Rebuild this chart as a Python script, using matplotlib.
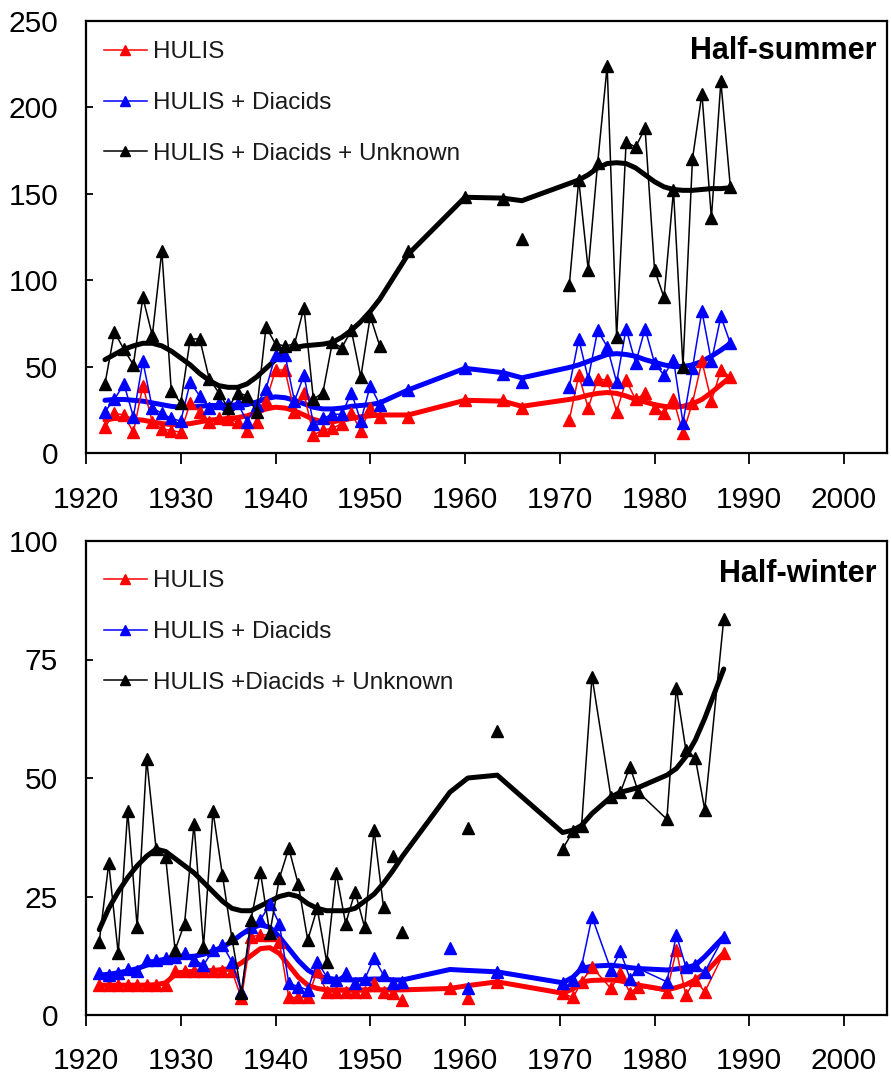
import numpy as np
import matplotlib.pyplot as plt
from matplotlib.lines import Line2D

plt.rcParams['font.family'] = ['Liberation Sans', 'DejaVu Sans']

nan = np.nan

# ---- half-summer: one value per year, nan rows break the thin lines ----
sum_years = list(range(1922, 1952)) + [nan, 1954, nan, 1960, nan, 1964, nan, 1966, nan] + list(range(1971, 1989))

sum_hulis = [15, 23, 22, 12, 39, 18, 14, 13, 12, 29, 24, 18, 20, 19.5, 18,
             12.7, 18, 30, 48, 48, 24, 34.5, 10.4, 13.3, 14.3, 17, 23, 13, 26, 21] + \
            [nan, 21, nan, 30.7, nan, 30.7, nan, 26, nan] + \
            [19, 45, 26, 43, 42, 24, 42, 31, 34.6, 26, 23, 31, 11.4, 29, 53, 30, 48, 44]
sum_diac = [24, 31, 40, 21, 53, 26, 23, 20, 18.5, 41, 33, 26, 29, 28.4, 29,
            18, 28, 37, 57, 57, 30, 45, 17, 20, 22.4, 22.4, 35, 18.5, 39, 28] + \
           [nan, 36.5, nan, 49, nan, 46, nan, 41.3, nan] + \
           [38.4, 66, 43, 71, 61.5, 41, 72, 52, 72, 52, 45, 54, 17.5, 49, 82, 53, 79, 63.5]
sum_unkn = [40, 70, 60, 51, 90, 68, 117, 36, 29, 66, 66, 43, 35, 26, 35,
            33, 24, 73, 63, 62, 63, 84, 31, 35, 64, 61, 71, 44, 79, 62] + \
           [nan, 117, nan, 148, nan, 147, nan, 124, nan] + \
           [97, 158, 106, 168, 224, 67, 180, 177, 188, 106, 90, 152, 50, 170, 208, 136, 215, 154]

# smoothed trends
sum_hulis_s = [19, 20, 20, 19.5, 19, 18, 17, 16.5, 16.5, 17, 18, 19, 19.5, 20, 20.5,
               21.5, 23.5, 25.5, 26.5, 26, 24.5, 22, 19.5, 18, 18, 19, 20, 21, 21.5, 22] + \
              [nan, 22, nan, 30.5, nan, 30, nan, 27, nan] + \
              [31, 32, 33.5, 34.5, 35, 34.5, 33, 31, 29.5, 28, 27, 26.5, 27, 28.5, 31, 35, 39.5, 44]
sum_diac_s = [30.5, 31, 31, 30.5, 30, 29, 28, 27, 26.5, 26.5, 27, 27.5, 27.5, 27.5, 27.5,
              28, 29.5, 31.5, 32.5, 32, 30.5, 28.5, 26.5, 25.5, 25.5, 26, 27, 27.5, 28, 29] + \
             [nan, 36.5, nan, 49, nan, 46.5, nan, 43.5, nan] + \
             [49.5, 51, 53, 55, 57, 57.5, 57, 56, 54, 52.5, 51, 50, 50, 51, 53, 56, 59.5, 63.5]
sum_unkn_s = [54, 57, 60, 62, 63.5, 63.5, 62, 59, 55, 51, 46, 42, 39, 38, 38,
              40, 44, 49, 54, 59, 61, 62, 62.5, 63, 64, 67, 71, 76, 82, 89] + \
             [nan, 115, nan, 148, nan, 147.5, nan, 146, nan] + \
             [156, 158, 161, 165, 167.5, 168, 167.5, 165, 161, 157, 154, 152.5, 152, 152, 152.5, 153, 153, 153.5]

# ---- half-winter ----
win_years = [y + 0.4 for y in range(1921, 1952)] + \
            [nan, 1952.4, nan, 1953.4, nan, 1958.4, nan, 1960.3, nan, 1963.4, nan] + \
            [1970.3, 1971.4, 1972.3, 1973.4, 1975.4, 1976.4, 1977.4, 1978.3,
             1981.3, 1982.3, 1983.3, 1984.3, 1985.3, 1987.3]

win_hulis = [6.3, 6.3, 6.3, 6.3, 6.3, 6.3, 6.3, 6.3, 9.3, 9.3, 9.3, 9.3, 9.3, 9.3, 9.3,
             3.5, 16.5, 16.9, 16.9, 15.5, 3.7, 3.7, 3.7, 9.3, 4.9, 4.9, 4.9, 4.9, 4.9, 6.8, 4.9] + \
            [nan, 4.6, nan, 3.2, nan, 5.6, nan, 3.5, nan, 7, nan] + \
            [4.6, 3.7, 7, 10.1, 5.6, 8.8, 4.7, 6, 4.9, 13.7, 4.2, 7.4, 4.9, 13]
win_diac = [8.8, 8.4, 8.8, 9.8, 9.3, 11.6, 11.6, 12, 12.3, 13, 11.7, 10.5, 13.7, 14.8, 11.2,
            4.9, 18.6, 20, 23.4, 19.3, 6.7, 6, 5.3, 11.2, 8.1, 7.4, 8.8, 6.8, 7.5, 12, 8.4] + \
           [nan, 6.7, nan, 7, nan, 14.1, nan, 5.6, nan, 9.1, nan] + \
           [6.7, 7.4, 10.3, 20.7, 9.5, 13.4, 7.7, 9.8, 7, 16.9, 10.2, 10.5, 9.1, 16.5]
win_unkn = [15.5, 32, 13, 43, 18.6, 54, 35, 33.4, 13.7, 19.3, 40.3, 14.4, 43, 29.5, 16.2,
            4.6, 20, 30.2, 17.2, 28.8, 35.2, 27.6, 15.8, 22.5, 11.2, 30, 19.3, 26, 18.5, 39, 22.7] + \
           [nan, 33.5, nan, 17.6, nan, nan, nan, 39.4, nan, 60, nan] + \
           [35, 38.8, 39.9, 71.4, 46, 47, 52.4, 47, 41.3, 69, 56, 54.2, 43.3, 83.5]

win_hulis_s = [6.3, 6.3, 6.3, 6.3, 6.3, 6.3, 6.4, 6.8, 8.5, 9.1, 9.2, 9.3, 9.4, 9.6, 9.8,
               11, 12.5, 14, 14.2, 13, 10.5, 8, 6.3, 5.6, 5.3, 5.3, 5.3, 5.3, 5.3, 5.3, 5.3] + \
              [nan, 5.3, nan, 5.3, nan, 5.6, nan, 6.2, nan, 7, nan] + \
              [4.6, 5.5, 7, 7.3, 7.4, 7.2, 6.7, 6.3, 5.3, 5.8, 6.4, 7.4, 8.8, 13]
win_diac_s = [8.4, 8.6, 8.9, 9.3, 9.8, 10.5, 11.4, 11.8, 12.1, 12.3, 12.4, 12.8, 13.5, 14.3, 15.5,
              17, 18.3, 19, 18.5, 16.5, 14, 11.5, 9.5, 8.3, 7.8, 7.5, 7.4, 7.4, 7.5, 7.6, 7.6] + \
             [nan, 7.4, nan, 7.4, nan, 9.6, nan, 9.4, nan, 9.1, nan] + \
             [6.8, 8, 9.8, 10.3, 10.5, 10.3, 10, 9.8, 9.5, 9.7, 10, 10.5, 12.3, 16.5]
win_unkn_s = [18, 22.5, 26, 29, 31.5, 33.5, 35, 34.5, 33, 31.5, 30, 28, 26, 24, 22.5,
              22, 22, 23, 24, 25, 25.5, 25, 23.5, 22.5, 22, 22, 22, 22.5, 24, 25.5, 27.8] + \
             [nan, 30.5, nan, 33.5, nan, 47, nan, 50, nan, 50.6, nan] + \
             [38.5, 39, 40, 42.5, 46, 47, 47.5, 48, 50.6, 52, 54.5, 58, 62.6, 73]

RED = '#ff0000'
BLUE = '#0000ff'
BLACK = '#000000'


def draw_series(ax, x, thin, smooth, color):
    x = np.asarray(x, float)
    s = np.asarray(smooth, float)
    ok = ~np.isnan(x) & ~np.isnan(s)
    ax.plot(x[ok], s[ok], color=color, lw=3.6, zorder=2, solid_capstyle='round')
    ax.plot(x, thin, color=color, lw=1.1, marker='^', ms=8, zorder=3)


def style_axes(ax, ymax, ystep, title, labels, leg_top, xpad):
    ax.set_xlim(1920, 2004.5)
    ax.set_ylim(0, ymax)
    ax.set_xticks(range(1920, 2001, 10))
    ax.set_yticks(np.arange(0, ymax + 1, ystep))
    for sp in ax.spines.values():
        sp.set_linewidth(1.6)
    ax.tick_params(axis='x', direction='out', length=8, width=1.3, pad=xpad, labelsize=21.5)
    ax.tick_params(axis='y', direction='in', length=5, width=1.3, pad=20, labelsize=21.5)
    ax.text(0.987, 0.93, title, transform=ax.transAxes, ha='right', va='center',
            fontsize=22, fontweight='bold')
    handles = [Line2D([], [], color=c, lw=1.1, marker='^', ms=7) for c in (RED, BLUE, BLACK)]
    leg = ax.legend(handles, labels, loc='upper left', bbox_to_anchor=(0.022, leg_top),
                    frameon=False, fontsize=17.5, handlelength=1.8, handletextpad=0.25,
                    labelspacing=1.18, borderpad=0, borderaxespad=0)
    for t in leg.get_texts():
        t.set_color('#1a1a1a')


fig = plt.figure(figsize=(8.91, 10.77), dpi=100)
ax1 = fig.add_axes([86 / 891, 624 / 1077, 800.7 / 891, 432 / 1077])
ax2 = fig.add_axes([86 / 891, 62 / 1077, 800.7 / 891, 474 / 1077])

for thin, smooth, c in ((sum_hulis, sum_hulis_s, RED), (sum_diac, sum_diac_s, BLUE),
                        (sum_unkn, sum_unkn_s, BLACK)):
    draw_series(ax1, sum_years, thin, smooth, c)
for thin, smooth, c in ((win_hulis, win_hulis_s, RED), (win_diac, win_diac_s, BLUE),
                        (win_unkn, win_unkn_s, BLACK)):
    draw_series(ax2, win_years, thin, smooth, c)

style_axes(ax1, 250, 50, 'Half-summer',
           ['HULIS', 'HULIS + Diacids', 'HULIS + Diacids + Unknown'], 0.953, 16)
style_axes(ax2, 100, 25, 'Half-winter',
           ['HULIS', 'HULIS + Diacids', 'HULIS +Diacids + Unknown'], 0.938, 15)

fig.savefig('out.png', dpi=100)
